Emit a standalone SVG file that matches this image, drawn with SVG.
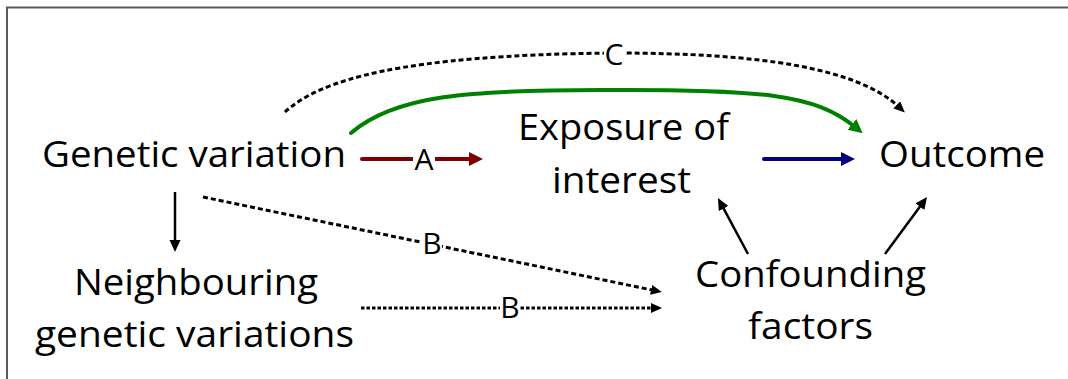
<svg xmlns="http://www.w3.org/2000/svg" width="1068" height="379" viewBox="0 0 1068 379">
  <style>
    .node { font-family: "Open Sans", "Noto Sans", sans-serif; font-size: 37px; fill: #000; }
    .lbl { font-family: "Open Sans", "Noto Sans", sans-serif; font-size: 30px; fill: #000; text-anchor: middle; }
    .lblbg { fill: #fff; }
    .link { fill: none; }
    .bold { stroke-width: 4; stroke-linecap: round; }
    .thin { stroke: #000; stroke-width: 2.5; }
    .dash { stroke: #000; stroke-width: 3; stroke-dasharray: 5 3; }
    .dot { stroke: #000; stroke-width: 3; stroke-dasharray: 3.5 2; }
  </style>
  <defs>
    <marker id="headRed" markerUnits="userSpaceOnUse" markerWidth="16" markerHeight="16" refX="4" refY="7" orient="auto">
      <path d="M0,0 L14,7 L0,14 z" fill="#800000"/>
    </marker>
    <marker id="headBlue" markerUnits="userSpaceOnUse" markerWidth="16" markerHeight="16" refX="4" refY="7" orient="auto">
      <path d="M0,0 L14,7 L0,14 z" fill="#000080"/>
    </marker>
    <marker id="headGreen" markerUnits="userSpaceOnUse" markerWidth="16" markerHeight="16" refX="4" refY="7" orient="auto">
      <path d="M0,0 L14,7 L0,14 z" fill="#008000"/>
    </marker>
    <marker id="headBlack" markerUnits="userSpaceOnUse" markerWidth="14" markerHeight="14" refX="3" refY="5.5" orient="auto">
      <path d="M0,0 L12,5.5 L0,11 z" fill="#000"/>
    </marker>
    <marker id="headDot" markerUnits="userSpaceOnUse" markerWidth="13" markerHeight="12" refX="3" refY="5" orient="auto">
      <path d="M0,0 L11,5 L0,10 z" fill="#000"/>
    </marker>
  </defs>

  <rect width="1068" height="379" fill="#fff"/>
  <!-- frame -->
  <path d="M7,379 V7.5 H1068" fill="none" stroke="#5a5a5a" stroke-width="2"/>

  <g id="connectors">
    <!-- C: direct path from genetic variation to outcome -->
    <path class="link dash" d="M285,112 C320,80 400,55 614,53 C760,53 857,68 899,107" marker-end="url(#headDot)"/>
    <!-- causal effect of exposure, via genetic variation -->
    <path class="link bold" stroke="#008000" d="M351,133 C395,95 470,90 600,90 C760,89 815,94 855,127" marker-end="url(#headGreen)"/>
    <!-- A -->
    <path class="link bold" stroke="#800000" d="M362,159 H473" marker-end="url(#headRed)"/>
    <!-- exposure to outcome -->
    <path class="link bold" stroke="#000080" d="M764,159 H845" marker-end="url(#headBlue)"/>
    <!-- linkage to neighbouring variants -->
    <path class="link thin" d="M175,192 V243" marker-end="url(#headBlack)"/>
    <!-- B: pleiotropy towards confounders -->
    <path class="link dash" d="M203,197 L654,290.4" marker-end="url(#headDot)"/>
    <path class="link dot" d="M361,308 H654" marker-end="url(#headDot)"/>
    <!-- confounders -->
    <path class="link thin" d="M748,254 L722.2,205.9" marker-end="url(#headBlack)"/>
    <path class="link thin" d="M885,254 L921.7,204.2" marker-end="url(#headBlack)"/>

    <!-- edge labels -->
    <rect class="lblbg" x="413" y="146" width="22" height="26"/>
    <text class="lbl" x="424" y="170">A</text>
    <rect class="lblbg" x="604" y="42" width="21" height="26"/>
    <text class="lbl" x="614" y="65">C</text>
    <rect class="lblbg" x="422" y="231" width="20" height="25"/>
    <text class="lbl" x="432" y="254">B</text>
    <rect class="lblbg" x="500" y="295" width="20" height="25"/>
    <text class="lbl" x="510" y="318">B</text>
  </g>

  <g id="genetic-variation">
    <text class="node" x="42" y="167" textLength="304" lengthAdjust="spacingAndGlyphs">Genetic variation</text>
  </g>
  <g id="exposure">
    <text class="node" x="518" y="140" textLength="211" lengthAdjust="spacingAndGlyphs">Exposure of</text>
    <text class="node" x="552" y="193" textLength="139" lengthAdjust="spacingAndGlyphs">interest</text>
  </g>
  <g id="outcome">
    <text class="node" x="879" y="167" textLength="166" lengthAdjust="spacingAndGlyphs">Outcome</text>
  </g>
  <g id="neighbouring">
    <text class="node" x="74" y="295" textLength="244" lengthAdjust="spacingAndGlyphs">Neighbouring</text>
    <text class="node" x="35" y="347" textLength="319" lengthAdjust="spacingAndGlyphs">genetic variations</text>
  </g>
  <g id="confounding">
    <text class="node" x="695" y="287" textLength="231" lengthAdjust="spacingAndGlyphs">Confounding</text>
    <text class="node" x="748" y="339" textLength="125" lengthAdjust="spacingAndGlyphs">factors</text>
  </g>
</svg>
